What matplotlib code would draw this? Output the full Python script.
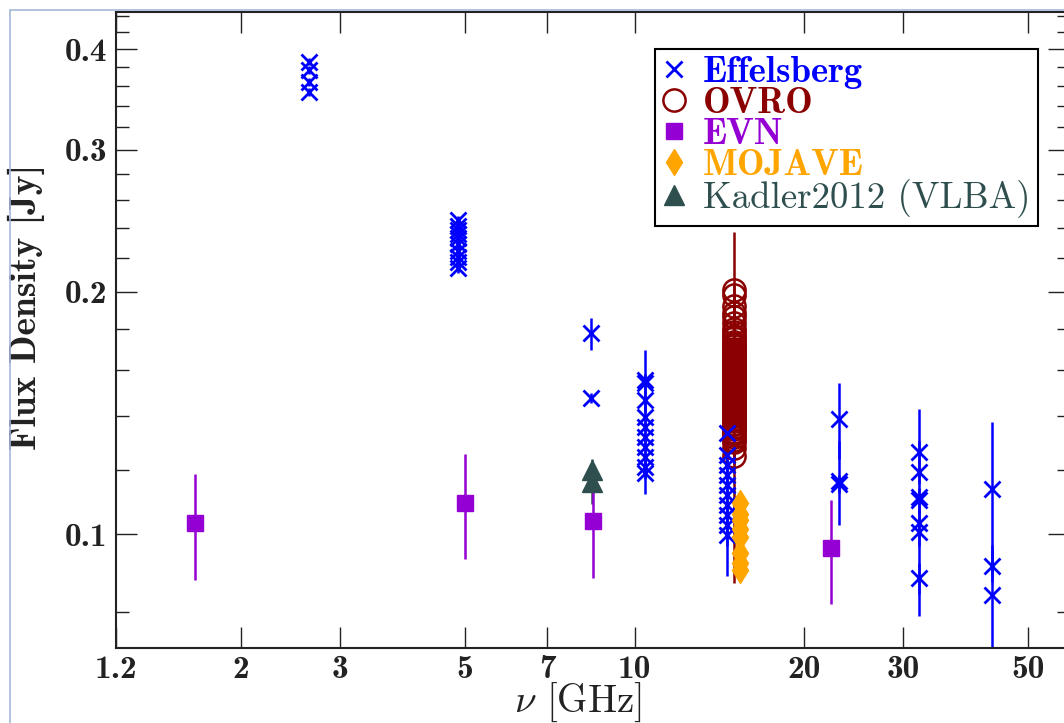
import matplotlib
matplotlib.use("Agg")
import matplotlib.pyplot as plt
from matplotlib.lines import Line2D
from matplotlib.patches import Rectangle
from matplotlib.ticker import FixedLocator, FixedFormatter, NullFormatter

plt.rcParams['mathtext.fontset'] = 'cm'
plt.rcParams['axes.unicode_minus'] = False

# Effelsberg (frequency GHz, flux Jy, error Jy)
eff_freq = [2.64] * 4 + [4.85] * 10 + [8.35] * 2 + [10.45] * 10 + [14.6] * 10 \
    + [23.05] * 3 + [32.0] * 7 + [43.0] * 3
eff_flux = [0.386, 0.377, 0.364, 0.354,
            0.2455, 0.241, 0.2385, 0.236, 0.233, 0.229, 0.225, 0.221, 0.2175, 0.214,
            0.1775, 0.1476,
            0.1553, 0.154, 0.1467, 0.1397, 0.1358, 0.132, 0.1283, 0.1246, 0.1211, 0.119,
            0.1335, 0.1254, 0.1218, 0.1184, 0.115, 0.1118, 0.1086, 0.1056, 0.1026, 0.0997,
            0.139, 0.1165, 0.1155,
            0.1264, 0.1194, 0.1112, 0.1102, 0.1032, 0.1006, 0.0882,
            0.1137, 0.0913, 0.084]
eff_err = [0.004, 0.004, 0.004, 0.004,
           0.003, 0.003, 0.003, 0.003, 0.003, 0.003, 0.003, 0.003, 0.003, 0.003,
           0.008, 0.002,
           0.014, 0.004, 0.004, 0.004, 0.004, 0.004, 0.004, 0.004, 0.004, 0.007,
           0.003, 0.003, 0.003, 0.003, 0.003, 0.023, 0.003, 0.003, 0.003, 0.003,
           0.015, 0.014, 0.003,
           0.004, 0.004, 0.032, 0.004, 0.004, 0.004, 0.004,
           0.024, 0.004, 0.013]

# OVRO 15 GHz (dense monitoring)
ovro_flux = [0.201, 0.198, 0.192, 0.188, 0.186, 0.183, 0.180, 0.176, 0.175, 0.172,
             0.170, 0.168, 0.165, 0.163, 0.162, 0.160, 0.158, 0.157, 0.155, 0.153,
             0.151, 0.150, 0.148, 0.146, 0.145, 0.143, 0.141, 0.139, 0.137, 0.135,
             0.133, 0.131, 0.128, 0.125,
             0.178, 0.173, 0.169, 0.166, 0.164, 0.161, 0.159, 0.156, 0.154, 0.152,
             0.149, 0.147, 0.144, 0.142, 0.140, 0.138, 0.136, 0.134, 0.132, 0.171,
             0.167, 0.162, 0.157, 0.153, 0.149, 0.145, 0.141, 0.137, 0.134, 0.130]
ovro_err = [0.036] + [0.006] * 32 + [0.038] + [0.006] * 30
ovro_freq = [15.0] * len(ovro_flux)

# EVN
evn_freq = [1.66, 4.99, 8.44, 22.3]
evn_flux = [0.1032, 0.1093, 0.1038, 0.0961]
evn_err = [0.0154, 0.0163, 0.0155, 0.0143]

# MOJAVE 15.4 GHz
moj_flux = [0.1093, 0.106, 0.1041, 0.1015, 0.0991, 0.0947, 0.092, 0.0902]
moj_err = [0.002, 0.003, 0.003, 0.003, 0.003, 0.003, 0.003, 0.003]
moj_freq = [15.4] * len(moj_flux)

# Kadler2012 (VLBA)
kad_freq = [8.4, 8.4]
kad_flux = [0.120, 0.116]
kad_err = [0.004, 0.007]

xticks = [1.2, 2, 3, 5, 7, 10, 20, 30, 50]
yticks = [0.1, 0.2, 0.3, 0.4]
yminor = [0.08, 0.12, 0.14, 0.16, 0.18, 0.22, 0.24, 0.26, 0.28,
          0.32, 0.34, 0.36, 0.38, 0.42, 0.44]

c_eff, c_ovro, c_evn, c_moj, c_kad = 'blue', '#8b0000', '#9400d3', 'orange', '#2f4f4f'
ink = '#222222'

fig = plt.figure(figsize=(10.64, 7.23), dpi=100)
ax = fig.add_axes([0.109, 0.1037, 0.8956, 0.8797])
ax.set_xscale('log')
ax.set_yscale('log')

ax.errorbar(ovro_freq, ovro_flux, yerr=ovro_err, fmt='o', color=c_ovro, mfc='none',
            ms=16, mew=1.8, elinewidth=1.8, capsize=0)
ax.errorbar(eff_freq, eff_flux, yerr=eff_err, fmt='x', color=c_eff,
            ms=11, mew=2, elinewidth=1.8, capsize=0)
ax.errorbar(kad_freq, kad_flux, yerr=kad_err, fmt='^', color=c_kad,
            ms=14, elinewidth=1.8, capsize=0)
ax.errorbar(evn_freq, evn_flux, yerr=evn_err, fmt='s', color=c_evn,
            ms=12, elinewidth=1.8, capsize=0)
ax.errorbar(moj_freq, moj_flux, yerr=moj_err, fmt='d', color=c_moj,
            ms=13, elinewidth=1.8, capsize=0)

ax.set_xlim(1.2, 59)
ax.set_ylim(0.0722, 0.445)

ax.xaxis.set_major_locator(FixedLocator(xticks))
ax.xaxis.set_major_formatter(FixedFormatter([str(t) for t in xticks]))
ax.xaxis.set_minor_locator(FixedLocator([]))
ax.xaxis.set_minor_formatter(NullFormatter())
ax.yaxis.set_major_locator(FixedLocator(yticks))
ax.yaxis.set_major_formatter(FixedFormatter([str(t) for t in yticks]))
ax.yaxis.set_minor_locator(FixedLocator(yminor))
ax.yaxis.set_minor_formatter(NullFormatter())

ax.tick_params(which='both', direction='in', top=True, right=True, colors=ink)
ax.tick_params(which='major', length=15, width=1, labelsize=24)
ax.tick_params(axis='y', which='major', pad=6)
ax.tick_params(axis='x', which='major', pad=5)
ax.tick_params(which='minor', length=9, width=1)
for lab in ax.get_xticklabels() + ax.get_yticklabels():
    lab.set_family('cmb10')
    lab.set_color(ink)
for sp in ax.spines.values():
    sp.set_linewidth(1.5)
    sp.set_color(ink)

ax.set_xlabel(r'$\nu$ [GHz]', family='cmr10', fontsize=28, color=ink, va='top')
ax.xaxis.set_label_coords(0.485, -0.052)
ax.set_ylabel('Flux Density [Jy]', family='cmb10', fontsize=27, color=ink)
ax.yaxis.set_label_coords(-0.074, 0.536)

handles = [
    Line2D([], [], ls='none', marker='x', color=c_eff, ms=12, mew=2),
    Line2D([], [], ls='none', marker='o', color=c_ovro, mfc='none', ms=16, mew=1.8),
    Line2D([], [], ls='none', marker='s', color=c_evn, ms=12),
    Line2D([], [], ls='none', marker='d', color=c_moj, ms=13),
    Line2D([], [], ls='none', marker='^', color=c_kad, ms=14),
]
names = ['Effelsberg', 'OVRO', 'EVN', 'MOJAVE', 'Kadler2012 (VLBA)']
leg = ax.legend(handles, names, loc='upper right', bbox_to_anchor=(0.9675, 0.942),
                fontsize=26.5, frameon=True, fancybox=False, framealpha=1,
                edgecolor='black', borderpad=0.2, labelspacing=-0.06,
                handlelength=0.6, handletextpad=0.5, borderaxespad=0)
leg.get_frame().set_linewidth(1.5)
for txt, col, fam in zip(leg.get_texts(), [c_eff, c_ovro, c_evn, c_moj, c_kad],
                         ['cmb10', 'cmb10', 'cmb10', 'cmb10', 'cmr10']):
    txt.set_color(col)
    txt.set_family(fam)

# thin frame seen around the reference image
fig.add_artist(Rectangle((0.0094, -0.1), 1.2, 1.086, transform=fig.transFigure,
                         fill=False, edgecolor='#a3b8d8', lw=1.2))

fig.savefig('out.png', dpi=100)
